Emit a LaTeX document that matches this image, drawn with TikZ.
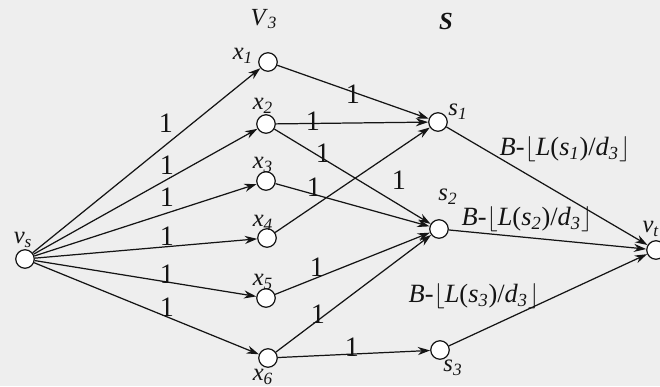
\documentclass[tikz,border=0pt]{standalone}
\usepackage{fontspec}
\setmainfont{Liberation Serif}
\usetikzlibrary{arrows.meta, positioning}
\definecolor{Ink}{HTML}{141414}
\definecolor{Paper}{HTML}{EEEEEE}
\newcommand{\vlab}[2]{\textit{#1}\textsubscript{\textit{#2}}}
\newcommand{\caplab}[1]{\textit{B}-$\lfloor$\textit{L}(\vlab{s}{#1})/\vlab{d}{3}$\rfloor$}

\begin{document}
\begin{tikzpicture}[
  x=0.02cm, y=-0.02cm,
  font=\fontsize{14}{16}\selectfont,
  vertex/.style={circle, draw=Ink, line width=0.7pt, fill=white, inner sep=0pt, minimum size=0.37cm},
  vname/.style={text=Ink, inner sep=0pt},
  caplabel/.style={vname, font=\fontsize{15}{16}\selectfont},
  weight/.style={text=Ink, inner sep=0pt, font=\fontsize{16}{16}\selectfont},
  arrow/.style={-{Stealth[length=7pt, width=4.6pt]}, line width=0.7pt, draw=Ink}
]
\fill[Paper] (0,0) rectangle (660,386);
\useasboundingbox (0,0) rectangle (660,386);

% vertices
\node[vertex] (vs) at (25,259) {};
\node[vertex] (x1) at (268,62) {};
\node[vertex] (x2) at (266,124) {};
\node[vertex] (x3) at (266,181) {};
\node[vertex] (x4) at (267,238) {};
\node[vertex] (x5) at (266,298) {};
\node[vertex] (x6) at (268,358) {};
\node[vertex] (s1) at (438,122) {};
\node[vertex] (s2) at (439,229) {};
\node[vertex] (s3) at (440,350) {};
\node[vertex] (vt) at (656,250) {};

% names
\node[vname] (lV) at (264,19) {\vlab{V}{3}};
\node[vname] (lS) at (446,21) {\textbf{\textit{S}}};
\node[vname] (lvs) at (23,240) {\vlab{v}{s}};
\node[vname] (lx1) at (243,56) {\vlab{x}{1}};
\node[vname] (lx2) at (263,106) {\vlab{x}{2}};
\node[vname] (lx3) at (263,165) {\vlab{x}{3}};
\node[vname] (lx4) at (263,223) {\vlab{x}{4}};
\node[vname] (lx5) at (263,282) {\vlab{x}{5}};
\node[vname] (lx6) at (263,377) {\vlab{x}{6}};
\node[vname] (ls1) at (458,112) {\vlab{s}{1}};
\node[vname] (ls2) at (448,197) {\vlab{s}{2}};
\node[vname] (ls3) at (453,368) {\vlab{s}{3}};
\node[vname] (lvt) at (651,229) {\vlab{v}{t}};

% edges
\foreach \i in {1,...,6}
  \draw[arrow] (vs) -- (x\i);
\draw[arrow] (x1) -- (s1);
\draw[arrow] (x2) -- (s1);
\draw[arrow] (x2) -- (s2);
\draw[arrow] (x3) -- (s2);
\draw[arrow] (x4) -- (s1);
\draw[arrow] (x5) -- (s2);
\draw[arrow] (x6) -- (s2);
\draw[arrow] (x6) -- (s3);
\draw[arrow] (s1) -- (vt);
\draw[arrow] (s2) -- (vt);
\draw[arrow] (s3) -- (vt);

% weights
\node[weight] (w1) at (166,123) {1};
\node[weight] (w2) at (167,165) {1};
\node[weight] (w3) at (167,197) {1};
\node[weight] (w4) at (167,236) {1};
\node[weight] (w5) at (167,274) {1};
\node[weight] (w6) at (167,307) {1};
\node[weight] (w11) at (353,94) {1};
\node[weight] (w21) at (313,121) {1};
\node[weight] (w22) at (323,153) {1};
\node[weight] (w32) at (314,187) {1};
\node[weight] (w41) at (399,180) {1};
\node[weight] (w52) at (317,267) {1};
\node[weight] (w62) at (318,314) {1};
\node[weight] (w63) at (352,347) {1};
\node[caplabel] (c1) at (565,149) {\caplab{1}};
\node[caplabel] (c2) at (527,219) {\caplab{2}};
\node[caplabel] (c3) at (474,296) {\caplab{3}};
\end{tikzpicture}
\end{document}
